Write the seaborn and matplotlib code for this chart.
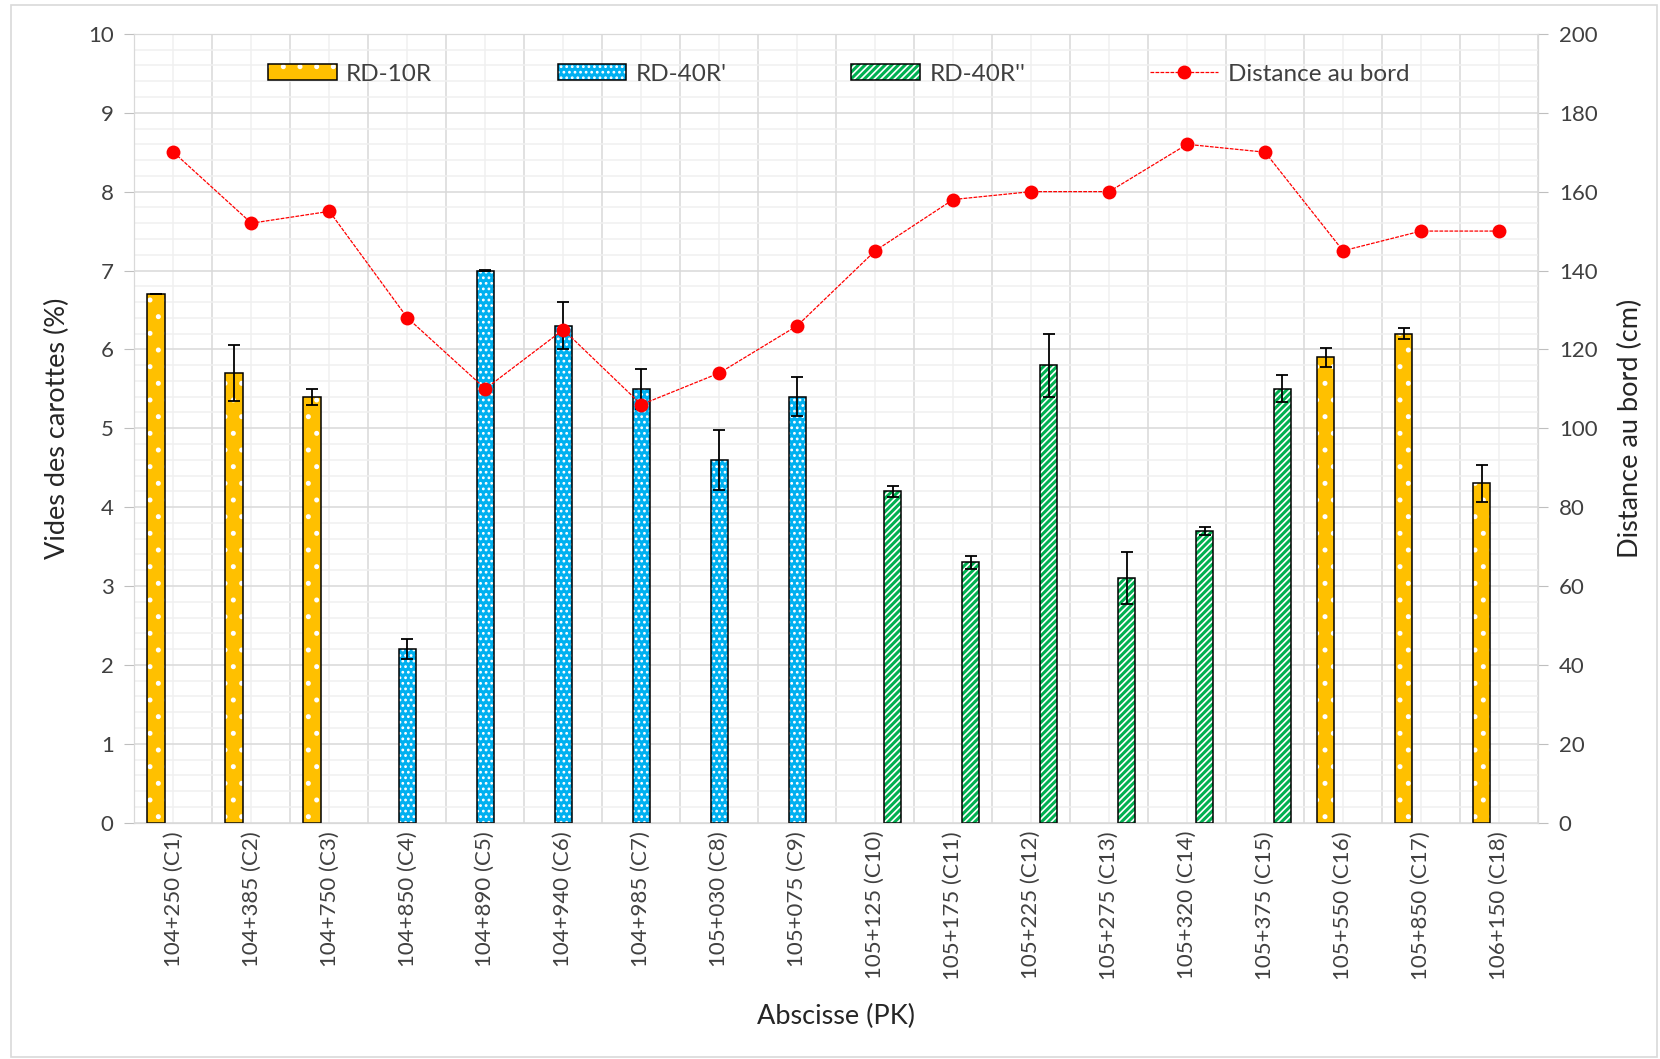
import numpy as np
import pandas as pd
import matplotlib
matplotlib.use("Agg")
import matplotlib.pyplot as plt
from matplotlib.patches import Rectangle, Patch
from matplotlib.lines import Line2D
from matplotlib.ticker import MultipleLocator, FixedLocator, NullFormatter
import seaborn as sns

# --- data ---
labels = ["104+250 (C1)", "104+385 (C2)", "104+750 (C3)", "104+850 (C4)", "104+890 (C5)",
          "104+940 (C6)", "104+985 (C7)", "105+030 (C8)", "105+075 (C9)", "105+125 (C10)",
          "105+175 (C11)", "105+225 (C12)", "105+275 (C13)", "105+320 (C14)", "105+375 (C15)",
          "105+550 (C16)", "105+850 (C17)", "106+150 (C18)"]
series = ["RD-10R", "RD-40R'", "RD-40R''"]
serie_of = ["RD-10R"] * 3 + ["RD-40R'"] * 6 + ["RD-40R''"] * 6 + ["RD-10R"] * 3
vides = [6.7, 5.7, 5.4, 2.2, 7.0, 6.3, 5.5, 4.6, 5.4, 4.2, 3.3, 5.8, 3.1, 3.7, 5.5, 5.9, 6.2, 4.3]
vides_err = [0.0, 0.35, 0.1, 0.13, 0.01, 0.3, 0.25, 0.38, 0.25, 0.07, 0.08, 0.4, 0.33, 0.05, 0.17,
             0.12, 0.07, 0.23]
distance = [170, 152, 155, 128, 110, 125, 106, 114, 126, 145, 158, 160, 160, 172, 170, 145, 150, 150]

colors = {"RD-10R": "#FFC000", "RD-40R'": "#00B0F0", "RD-40R''": "#00B050"}
hatches = {"RD-10R": ".", "RD-40R'": "...", "RD-40R''": "/////"}

sns.set_style("white")
plt.rcParams['font.family'] = ['Lato', 'DejaVu Sans']
plt.rcParams['hatch.linewidth'] = 1.2

df = pd.DataFrame({"abscisse": labels, "vides": vides, "serie": serie_of})

fig = plt.figure(figsize=(16.6, 10.59), dpi=100)
ax = fig.add_axes([0.081, 0.2232, 0.8455, 0.7448])

sns.barplot(data=df, x="abscisse", y="vides", hue="serie", order=labels, hue_order=series,
            palette=colors, saturation=1, width=0.67, dodge=True, errorbar=None,
            legend=False, ax=ax)

# style bars: white hatch + black outline, then error bars
for cont, s in zip(ax.containers, series):
    for bar in cont:
        if np.isnan(bar.get_height()) or bar.get_height() == 0:
            continue
        bar.set_hatch(hatches[s])
        bar.set_edgecolor("white")
        bar.set_linewidth(0)
        bar.set_zorder(2)
        ax.add_patch(Rectangle(bar.get_xy(), bar.get_width(), bar.get_height(), fill=False,
                               edgecolor="black", lw=1.1, zorder=3))
        xc = bar.get_x() + bar.get_width() / 2
        i = int(round(xc))
        ax.errorbar(xc, vides[i], yerr=vides_err[i], fmt="none", ecolor="black",
                    elinewidth=1.3, capsize=4.6, capthick=1.3, zorder=4)

n = len(labels)
ax.set_xlim(-0.5, n - 0.5)
ax.set_ylim(0, 10)
ax.set_axisbelow(True)

ax.xaxis.set_major_locator(FixedLocator(np.arange(n + 1) - 0.5))
ax.xaxis.set_major_formatter(NullFormatter())
ax.xaxis.set_minor_locator(FixedLocator(np.arange(n)))
ax.set_xticks(np.arange(n), labels, minor=True, rotation=90, fontsize=16, color="#404040")
ax.tick_params(axis="x", which="major", length=7, color="#bfbfbf", direction="out")
ax.tick_params(axis="x", which="minor", length=0, pad=6)

ax.yaxis.set_major_locator(MultipleLocator(1))
ax.yaxis.set_minor_locator(MultipleLocator(0.2))
ax.tick_params(axis="y", which="major", length=7, color="#bfbfbf", direction="out",
               labelsize=16, labelcolor="#404040", pad=8)
ax.tick_params(axis="y", which="minor", length=0)

ax.grid(True, which="major", color="#d9d9d9", lw=1.1)
ax.grid(True, which="minor", color="#f0f0f0", lw=1.1)
for sp in ax.spines.values():
    sp.set_color("#d9d9d9")

ax.set_xlabel("Abscisse (PK)", fontsize=19.5)
ax.xaxis.set_label_coords(0.5, -0.23)
ax.set_ylabel("Vides des carottes (%)", fontsize=19.5)
ax.yaxis.set_label_coords(-0.046, 0.5)

# secondary axis: distance to edge
ax2 = ax.twinx()
sns.lineplot(x=np.arange(n), y=distance, color="#FF0000", lw=0.9, linestyle=(0, (3, 1)),
             marker="o", markersize=10, markeredgewidth=0, sort=False, ax=ax2)
ax2.set_ylim(0, 200)
ax2.yaxis.set_major_locator(MultipleLocator(20))
ax2.tick_params(axis="y", length=7, color="#bfbfbf", direction="out",
                labelsize=16, labelcolor="#404040", pad=8)
ax2.set_ylabel("Distance au bord (cm)", fontsize=19.5)
ax2.yaxis.set_label_coords(1.057, 0.5)
for sp in ax2.spines.values():
    sp.set_color("#d9d9d9")

# legend
handles = []
for s in series:
    handles.append((Patch(facecolor=colors[s], edgecolor="white", hatch=hatches[s], lw=0),
                    Patch(fill=False, edgecolor="black", lw=1.1)))
handles.append(Line2D([], [], color="#FF0000", lw=0.9, linestyle=(0, (3, 1)), marker="o",
                      markersize=10, markeredgewidth=0))
leg = ax2.legend(handles, series + ["Distance au bord"], loc="center",
                 bbox_to_anchor=(0.502, 0.949), ncol=4, frameon=False, fontsize=17.5,
                 handlelength=2.8, handleheight=0.6, columnspacing=5.15, handletextpad=0.4)
for t in leg.get_texts():
    t.set_color("#404040")

fig.patches.append(Rectangle((0.0064, 0.002), 0.9918, 0.993, transform=fig.transFigure,
                             fill=False, edgecolor="#d9d9d9", lw=1.2))

fig.savefig("out.png", dpi=100)
